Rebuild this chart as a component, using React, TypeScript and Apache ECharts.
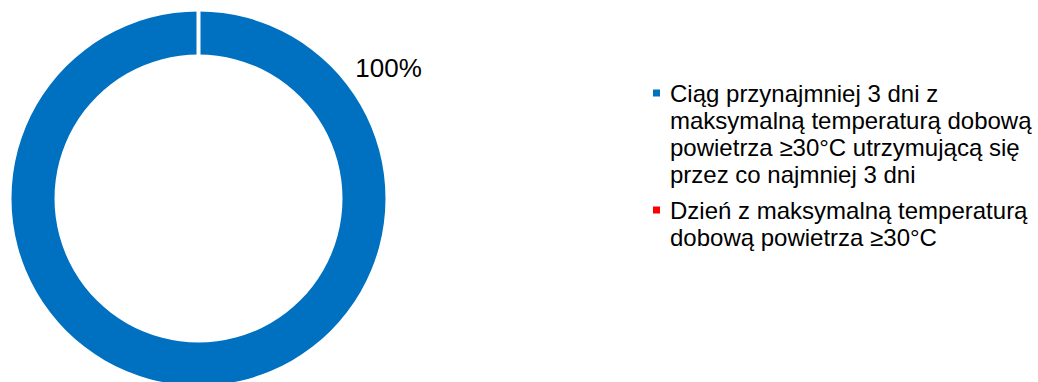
import React, { useEffect, useRef } from 'react';
import * as echarts from 'echarts';

const categories = [
  'Ciąg przynajmniej 3 dni z maksymalną temperaturą dobową powietrza ≥30°C utrzymującą się przez co najmniej 3 dni',
  'Dzień z maksymalną temperaturą dobową powietrza ≥30°C',
];
const values = [100, 0];
const colors = ['#0070C0', '#FF0000'];
const legendLines = [
  ['Ciąg przynajmniej 3 dni z', 'maksymalną temperaturą dobową', 'powietrza ≥30°C utrzymującą się', 'przez co najmniej 3 dni'],
  ['Dzień z maksymalną temperaturą', 'dobową powietrza ≥30°C'],
];

const FONT = '"Liberation Sans", Arial, sans-serif';

export default function App() {
  const ref = useRef<HTMLDivElement>(null);
  useEffect(() => {
    if (!ref.current) return;
    const chart = echarts.init(ref.current, null, { renderer: 'svg' });
    const rich: any = {
      gap: { width: 10 },
      pad: { width: 17 },
      t: { fontSize: 24, lineHeight: 27, fontFamily: FONT, color: '#000' },
    };
    colors.forEach((c, i) => {
      rich['sq' + i] = { width: 7, height: 7, backgroundColor: c, verticalAlign: 'middle' };
    });
    chart.setOption({
      animation: false,
      backgroundColor: '#fff',
      legend: {
        orient: 'vertical',
        left: 647,
        top: 81,
        padding: 0,
        itemGap: 12,
        itemWidth: 0,
        itemHeight: 0,
        icon: 'rect',
        selectedMode: false,
        data: categories,
        formatter: (name: string) => {
          const i = categories.indexOf(name);
          return legendLines[i]
            .map((l, k) => (k === 0 ? `{sq${i}|}{gap|}{t|${l}}` : `{pad|}{t|${l}}`))
            .join('\n');
        },
        textStyle: { rich, fontFamily: FONT, color: '#000' },
      },
      series: [
        {
          type: 'pie',
          silent: true,
          center: [198.5, 198.5],
          radius: [144, 187],
          startAngle: 90,
          clockwise: true,
          avoidLabelOverlap: false,
          label: {
            show: true,
            formatter: '{d}%',
            fontSize: 26,
            fontFamily: FONT,
            color: '#000',
          },
          labelLine: { show: false },
          labelLayout: (params: any) =>
            params.dataIndex === 0
              ? { x: 388.5, y: 68, align: 'center', verticalAlign: 'middle' }
              : {},
          data: categories.map((name, i) => ({
            name,
            value: values[i],
            itemStyle:
              i === 0
                ? { color: colors[i], borderWidth: 0 }
                : { color: colors[i], borderColor: '#fff', borderWidth: 4 },
            label: i === 0 ? {} : { show: false },
          })),
        },
      ],
    });
    return () => chart.dispose();
  }, []);
  return (
    <div
      ref={ref}
      style={{ position: 'fixed', left: 0, top: 0, width: 1038, height: 382 }}
    />
  );
}
